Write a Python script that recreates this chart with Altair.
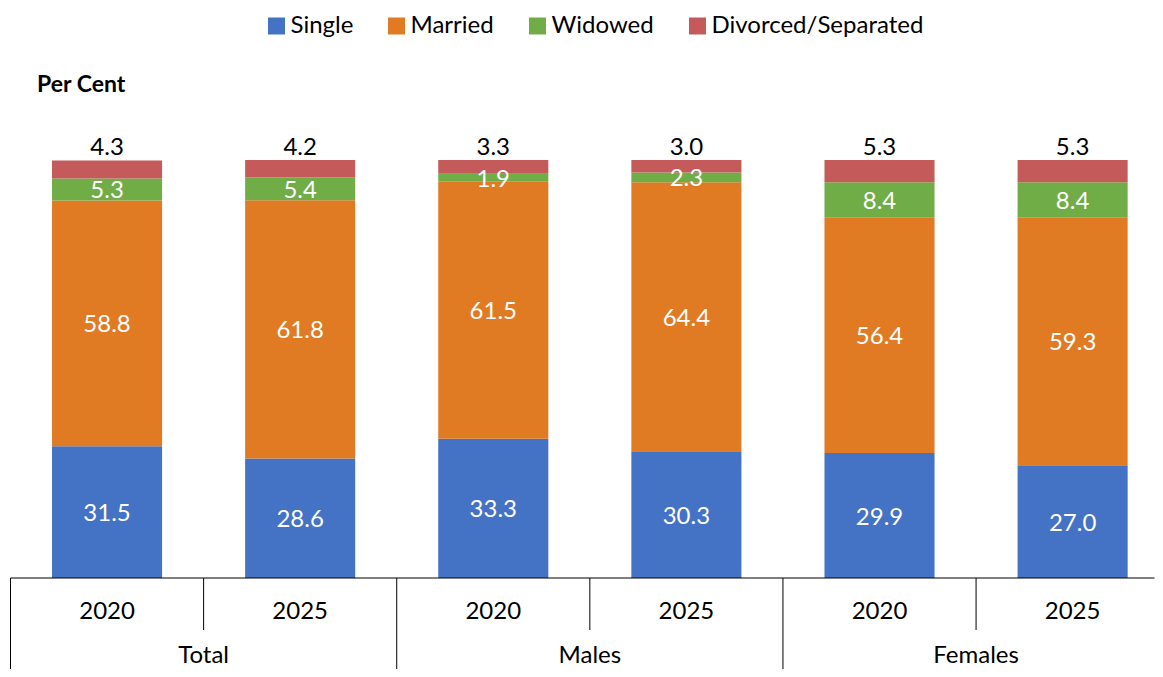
import altair as alt
import pandas as pd

groups = ["Total", "Total", "Males", "Males", "Females", "Females"]
years = ["2020", "2025", "2020", "2025", "2020", "2025"]
categories = ["Single", "Married", "Widowed", "Divorced/Separated"]
colors = ["#4472C4", "#E07B24", "#70AD47", "#C55A5A"]
single = [31.5, 28.6, 33.3, 30.3, 29.9, 27.0]
married = [58.8, 61.8, 61.5, 64.4, 56.4, 59.3]
widowed = [5.3, 5.4, 1.9, 2.3, 8.4, 8.4]
divorced = [4.3, 4.2, 3.3, 3.0, 5.3, 5.3]

series = [single, married, widowed, divorced]
rows = []
for i in range(len(years)):
    for k, cat in enumerate(categories):
        rows.append({"idx": i, "x0": i - 0.285, "x1": i + 0.285,
                     "cat": cat, "order": k, "value": series[k][i],
                     "label": f"{series[k][i]:.1f}"})
df = pd.DataFrame(rows)

FONT = "Lato"
FS = 24
W, H = 1144, 418
xs = alt.Scale(domain=[-0.5, 5.424], nice=False, zero=False)
ys = alt.Scale(domain=[0, 100], nice=False)

base = alt.Chart(df).transform_stack(
    stack="value", groupby=["idx"], as_=["y0", "y1"],
    sort=[alt.SortField("order", order="ascending")]
).transform_calculate(mid="(datum.y0 + datum.y1) / 2")

bars = base.mark_bar(stroke=None).encode(
    x=alt.X("x0:Q", scale=xs, axis=None),
    x2="x1:Q",
    y=alt.Y("y0:Q", scale=ys, axis=None),
    y2="y1:Q",
    color=alt.Color("cat:N", scale=alt.Scale(domain=categories, range=colors),
                    legend=alt.Legend(title=None, orient="none", direction="horizontal",
                                      legendX=254, legendY=-146, columns=4,
                                      symbolType="square", symbolSize=289,
                                      symbolStrokeWidth=0, labelLimit=400,
                                      labelFontSize=FS, labelFont=FONT,
                                      labelColor="#000000", labelOffset=2,
                                      columnPadding=31)),
)

inner = base.transform_filter(alt.datum.cat != "Divorced/Separated").mark_text(
    font=FONT, fontSize=FS, color="white", baseline="middle", dy=2
).encode(x=alt.X("idx:Q", scale=xs), y=alt.Y("mid:Q", scale=ys), text="label:N")

top = base.transform_filter(alt.datum.cat == "Divorced/Separated").mark_text(
    font=FONT, fontSize=FS, color="black", baseline="bottom", dy=0
).encode(x=alt.X("idx:Q", scale=xs), y=alt.Y("y1:Q", scale=ys), text="label:N")

# category axis (two levels)
year_df = pd.DataFrame({"idx": list(range(6)), "year": years})
group_names = ["Total", "Males", "Females"]
group_df = pd.DataFrame({"pos": [0.5, 2.5, 4.5], "name": group_names})
sep_df = pd.DataFrame({"b": [-0.5, 0.5, 1.5, 2.5, 3.5, 4.5],
                       "kind": ["long", "short", "long", "short", "long", "short"]})
base_df = pd.DataFrame({"a": [-0.5], "b": [5.424]})
title_df = pd.DataFrame({"t": ["Per Cent"]})

year_text = alt.Chart(year_df).mark_text(font=FONT, fontSize=FS, color="black",
                                         baseline="middle").encode(
    x=alt.X("idx:Q", scale=xs), y=alt.value(H + 34), text="year:N")
group_text = alt.Chart(group_df).mark_text(font=FONT, fontSize=FS, color="black",
                                           baseline="middle").encode(
    x=alt.X("pos:Q", scale=xs), y=alt.value(H + 78), text="name:N")
hline = alt.Chart(base_df).mark_rule(color="black", strokeWidth=1).encode(
    x=alt.X("a:Q", scale=xs), x2="b:Q", y=alt.value(H))
short_sep = alt.Chart(sep_df).transform_filter(alt.datum.kind == "short").mark_rule(
    color="black", strokeWidth=1).encode(
    x=alt.X("b:Q", scale=xs), y=alt.value(H), y2=alt.value(H + 52))
long_sep = alt.Chart(sep_df).transform_filter(alt.datum.kind == "long").mark_rule(
    color="black", strokeWidth=1).encode(
    x=alt.X("b:Q", scale=xs), y=alt.value(H), y2=alt.value(H + 110))
per_cent = alt.Chart(title_df).mark_text(font=FONT, fontSize=23, fontWeight="bold",
                                         color="black", align="left",
                                         baseline="middle").encode(
    x=alt.value(26.5), y=alt.value(-75), text="t:N")

chart = alt.layer(bars, inner, top, hline, short_sep, long_sep, year_text, group_text,
                  per_cent).properties(
    width=W, height=H,
    autosize=alt.AutoSizeParams(type="none"),
    padding={"left": 2.5, "top": 152, "right": 0, "bottom": 91},
).configure(background="white").configure_view(stroke=None)

chart.save("out.html", embed_options={"renderer": "svg", "actions": False})
